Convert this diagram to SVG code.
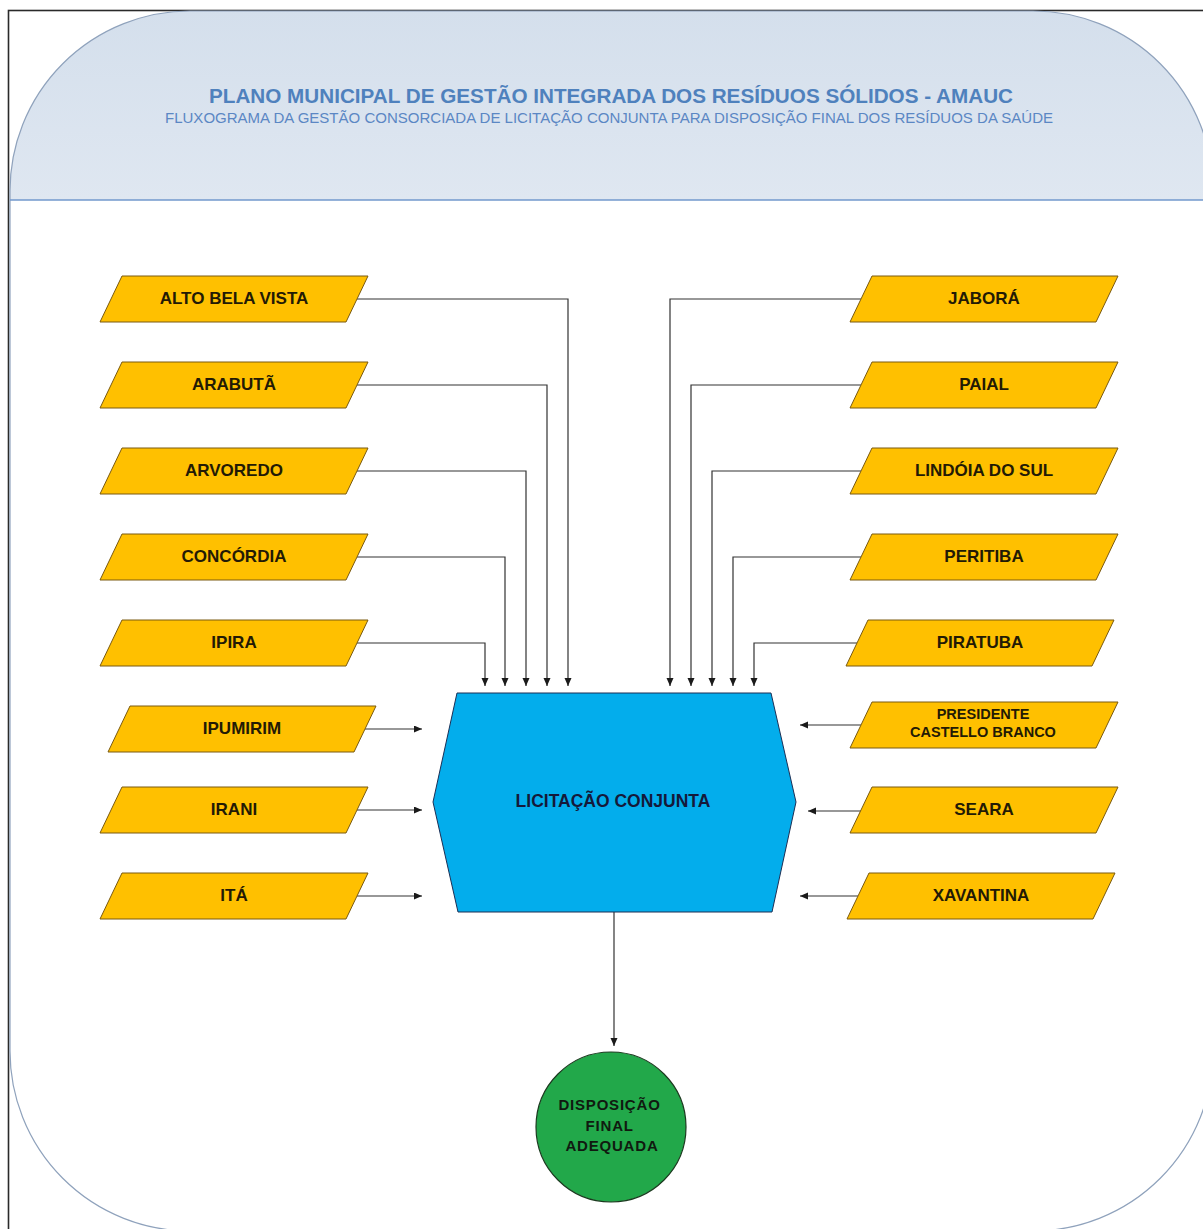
<svg xmlns="http://www.w3.org/2000/svg" width="1203" height="1229" viewBox="0 0 1203 1229">
<defs>
<linearGradient id="hdr" x1="0" y1="0" x2="0" y2="1">
<stop offset="0" stop-color="#d4dfec"/>
<stop offset="1" stop-color="#dfe7f1"/>
</linearGradient>
<clipPath id="frameClip">
<rect x="10" y="11" width="1203" height="1220" rx="180" ry="180"/>
</clipPath>
<polygon id="para" points="22,0 268,0 246,46 0,46"/>
<marker id="arr" markerUnits="userSpaceOnUse" markerWidth="9" markerHeight="8" refX="8" refY="3.5" orient="auto">
<path d="M0,0 L8,3.5 L0,7 z" fill="#1a1a1a"/>
</marker>
</defs>
<style>
.box{fill:#ffc000;stroke:#7a5a10;stroke-width:1}
.lbl{font-family:"Liberation Sans",Arial,sans-serif;font-weight:bold;font-size:17px;fill:#231a05;text-anchor:middle}
.conn{fill:none;stroke:#333;stroke-width:1.2;marker-end:url(#arr)}
</style>
<rect width="1203" height="1229" fill="#ffffff"/>
<rect x="8.5" y="10.5" width="1300" height="1300" fill="none" stroke="#2a2a2a" stroke-width="1.6"/>
<g id="frame">
<rect x="10" y="11" width="1203" height="189" fill="url(#hdr)" clip-path="url(#frameClip)"/>
<rect x="10" y="11" width="1203" height="1220" rx="180" ry="180" fill="none" stroke="#8fa2bc" stroke-width="1.2"/>
<line x1="10" y1="200" x2="1203" y2="200" stroke="#7299cc" stroke-width="1.5"/>
</g>
<g id="title">
<text x="611" y="103" font-family="'Liberation Sans',Arial,sans-serif" font-weight="bold" font-size="20.5" fill="#4f81bd" text-anchor="middle" textLength="804" lengthAdjust="spacingAndGlyphs">PLANO MUNICIPAL DE GESTÃO INTEGRADA DOS RESÍDUOS SÓLIDOS  - AMAUC</text>
<text x="609" y="123" font-family="'Liberation Sans',Arial,sans-serif" font-size="14.5" fill="#5b87c4" text-anchor="middle" textLength="888" lengthAdjust="spacingAndGlyphs">FLUXOGRAMA DA GESTÃO CONSORCIADA DE LICITAÇÃO CONJUNTA PARA DISPOSIÇÃO FINAL DOS RESÍDUOS DA SAÚDE</text>
</g>
<g id="connectors">
<path class="conn" d="M357,299 H568 V686"/>
<path class="conn" d="M357,385 H547 V686"/>
<path class="conn" d="M357,471 H526 V686"/>
<path class="conn" d="M357,557 H505 V686"/>
<path class="conn" d="M357,643 H485 V686"/>
<path class="conn" d="M861,299 H670 V686"/>
<path class="conn" d="M861,385 H691 V686"/>
<path class="conn" d="M861,471 H712 V686"/>
<path class="conn" d="M861,557 H733 V686"/>
<path class="conn" d="M857,643 H754 V686"/>
<path class="conn" d="M365,729 H422"/>
<path class="conn" d="M357,810 H422"/>
<path class="conn" d="M357,896 H422"/>
<path class="conn" d="M861,725 H800"/>
<path class="conn" d="M861,811 H808"/>
<path class="conn" d="M858,896 H800"/>
<path class="conn" d="M614,912 V1046"/>
</g>
<g id="n-alto"><use href="#para" class="box" x="100" y="276"/><text class="lbl" x="234" y="304">ALTO BELA VISTA</text></g>
<g id="n-arabuta"><use href="#para" class="box" x="100" y="362"/><text class="lbl" x="234" y="390">ARABUTÃ</text></g>
<g id="n-arvoredo"><use href="#para" class="box" x="100" y="448"/><text class="lbl" x="234" y="476">ARVOREDO</text></g>
<g id="n-concordia"><use href="#para" class="box" x="100" y="534"/><text class="lbl" x="234" y="562">CONCÓRDIA</text></g>
<g id="n-ipira"><use href="#para" class="box" x="100" y="620"/><text class="lbl" x="234" y="648">IPIRA</text></g>
<g id="n-ipumirim"><use href="#para" class="box" x="108" y="706"/><text class="lbl" x="242" y="734">IPUMIRIM</text></g>
<g id="n-irani"><use href="#para" class="box" x="100" y="787"/><text class="lbl" x="234" y="815">IRANI</text></g>
<g id="n-ita"><use href="#para" class="box" x="100" y="873"/><text class="lbl" x="234" y="901">ITÁ</text></g>
<g id="n-jabora"><use href="#para" class="box" x="850" y="276"/><text class="lbl" x="984" y="304">JABORÁ</text></g>
<g id="n-paial"><use href="#para" class="box" x="850" y="362"/><text class="lbl" x="984" y="390">PAIAL</text></g>
<g id="n-lindoia"><use href="#para" class="box" x="850" y="448"/><text class="lbl" x="984" y="476">LINDÓIA DO SUL</text></g>
<g id="n-peritiba"><use href="#para" class="box" x="850" y="534"/><text class="lbl" x="984" y="562">PERITIBA</text></g>
<g id="n-piratuba"><use href="#para" class="box" x="846" y="620"/><text class="lbl" x="980" y="648">PIRATUBA</text></g>
<g id="n-presidente"><use href="#para" class="box" x="850" y="702"/><text class="lbl" x="983" y="719" style="font-size:14.5px">PRESIDENTE</text><text class="lbl" x="983" y="737" style="font-size:14.5px">CASTELLO BRANCO</text></g>
<g id="n-seara"><use href="#para" class="box" x="850" y="787"/><text class="lbl" x="984" y="815">SEARA</text></g>
<g id="n-xavantina"><use href="#para" class="box" x="847" y="873"/><text class="lbl" x="981" y="901">XAVANTINA</text></g>
<g id="n-licitacao">
<polygon points="457,693 771,693 796,802 772,912 458,912 433,802" fill="#03adec" stroke="#1c2f55" stroke-width="1"/>
<text x="613" y="807" font-family="'Liberation Sans',Arial,sans-serif" font-weight="bold" font-size="17.5" fill="#15193a" text-anchor="middle">LICITAÇÃO CONJUNTA</text>
</g>
<g id="n-disposicao">
<circle cx="611" cy="1127" r="75" fill="#22a84a" stroke="#1b3a1f" stroke-width="1.2"/>
<text font-family="'Liberation Sans',Arial,sans-serif" font-weight="bold" font-size="15" fill="#101a10" text-anchor="middle" letter-spacing="0.8">
<tspan x="612" y="1110">DISPOSIÇÃO</tspan>
<tspan x="612" y="1131">FINAL</tspan>
<tspan x="612" y="1151">ADEQUADA</tspan>
</text>
</g>
</svg>
